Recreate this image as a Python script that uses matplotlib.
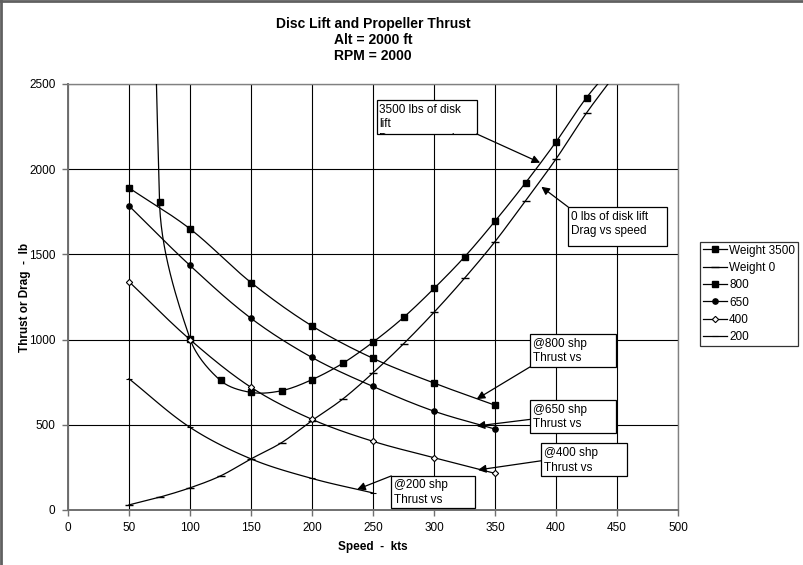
import numpy as np
import matplotlib
matplotlib.use('Agg')
import matplotlib.pyplot as plt
from matplotlib.patches import Rectangle
from matplotlib.transforms import Bbox, TransformedBbox

plt.rcParams['font.family'] = ['Liberation Sans', 'DejaVu Sans']
plt.rcParams['font.size'] = 8.5

# speeds (kts)
speed_25 = [50, 75, 100, 125, 150, 175, 200, 225, 250, 275, 300, 325, 350, 375, 400, 425, 450]
speed_50 = [50, 100, 150, 200, 250, 300, 350]
speed_200 = [50, 100, 150, 200, 250]

# drag with 3500 lbs / 0 lbs of disk lift (lb)
weight_3500 = [14000, 1810, 1005, 760, 690, 700, 765, 860, 985, 1130, 1300, 1485, 1695, 1920, 2160, 2420, 2630]
weight_0 = [30, 75, 130, 200, 300, 395, 525, 650, 805, 975, 1160, 1360, 1575, 1815, 2060, 2330, 2570]

# propeller thrust at given shp (lb)
thrust_800 = [1890, 1650, 1335, 1080, 890, 745, 615]
thrust_650 = [1785, 1435, 1125, 895, 725, 580, 475]
thrust_400 = [1340, 1000, 720, 532, 403, 307, 215]
thrust_200 = [770, 485, 300, 185, 100]

fig = plt.figure(figsize=(8.04, 5.65), dpi=100)
ax = fig.add_axes([68/804, 55/565, 610/804, 426/565])
ax.set_xlim(0, 500)
ax.set_ylim(0, 2500)


def smooth(xs, ys, n=30):
    # Excel-style smoothed line: cubic Bezier with chord-weighted tangents,
    # worked out in screen space so both axes count equally
    pts = ax.transData.transform(np.column_stack([xs, ys]).astype(float))
    m = len(pts)
    out = []
    t = np.linspace(0, 1, n)[:, None]
    for i in range(m - 1):
        p0, p1, p2, p3 = pts[max(i - 1, 0)], pts[i], pts[i + 1], pts[min(i + 2, m - 1)]
        d01 = np.hypot(*(p1 - p0))
        d12 = np.hypot(*(p2 - p1))
        d23 = np.hypot(*(p3 - p2))
        c1 = p1 + (p2 - p0) / 3 * d12 / (d01 + d12)
        c2 = p2 - (p3 - p1) / 3 * d12 / (d12 + d23)
        seg = (1 - t)**3 * p1 + 3 * (1 - t)**2 * t * c1 + 3 * (1 - t) * t**2 * c2 + t**3 * p2
        out.append(seg if i == 0 else seg[1:])
    xy = ax.transData.inverted().transform(np.vstack(out))
    return xy[:, 0], xy[:, 1]


series = [
    ('Weight 3500', speed_25, weight_3500, dict(marker='s', ms=4.2, mfc='k')),
    ('Weight 0', speed_25, weight_0, dict(marker='_', ms=6, mew=1.0)),
    ('800', speed_50, thrust_800, dict(marker='s', ms=4.2, mfc='k')),
    ('650', speed_50, thrust_650, dict(marker='o', ms=3.8, mfc='k')),
    ('400', speed_50, thrust_400, dict(marker='D', ms=3.2, mfc='white', mew=0.8)),
    ('200', speed_200, thrust_200, dict(marker='_', ms=5, mew=0.8)),
]

for label, xs, ys, mk in series:
    sx, sy = smooth(xs, ys)
    ax.plot(sx, sy, color='k', lw=0.9, zorder=3)
    ax.plot(xs, ys, ls='none', color='k', mec='k', zorder=4, **mk)
    # legend proxy
    ax.plot([], [], color='k', lw=0.9, mec='k', label=label, **mk)

# grid and frame
ax.set_xticks(np.arange(0, 501, 50))
ax.set_yticks(np.arange(0, 2501, 500))
ax.grid(True, color='k', lw=0.8)
ax.set_axisbelow(True)
for side in ['top', 'right']:
    ax.spines[side].set_color('#808080')
    ax.spines[side].set_linewidth(1.0)
for side in ['left', 'bottom']:
    ax.spines[side].set_color('#707070')
    ax.spines[side].set_linewidth(1.4)
ax.tick_params(direction='out', length=4, width=1, color='#707070', labelsize=8.5)
ax.tick_params(axis='x', pad=4.5)
ax.tick_params(axis='y', pad=5)

fig.text(373/804, 1 - 17/565, 'Disc Lift and Propeller Thrust\nAlt = 2000 ft\nRPM = 2000',
         ha='center', va='top', fontsize=10, fontweight='bold', linespacing=1.18)
fig.text(373/804, 1 - 547/565, 'Speed  -  kts', ha='center', va='center',
         fontsize=8.5, fontweight='bold')
fig.text(25/804, 1 - 297/565, 'Thrust or Drag  -  lb', ha='center', va='center',
         rotation=90, fontsize=8.5, fontweight='bold')

# callout boxes: (x0, x1, y0, y1), text, arrow start, arrow tip
callouts = [
    ((253, 335, 2207, 2406), '3500 lbs of disk\nlift\nDrag vs speed', (335, 2207), (387, 2038)),
    ((410, 491, 1549, 1778), '0 lbs of disk lift\nDrag vs speed', (410, 1778), (388, 1897)),
    ((379, 449, 841, 1033), '@800 shp\nThrust vs', (379, 841), (335, 651)),
    ((379, 449, 450, 645), '@650 shp\nThrust vs', (379, 532), (335, 493)),
    ((388, 458, 200, 391), '@400 shp\nThrust vs', (388, 289), (336, 235)),
    ((265, 334, 10, 201), '@200 shp\nThrust vs', (265, 200), (237, 121)),
]
for (x0, x1, y0, y1), txt, start, tip in callouts:
    ax.add_patch(Rectangle((x0, y0), x1 - x0, y1 - y0, facecolor='white',
                           edgecolor='k', lw=0.9, zorder=6))
    t = ax.text(x0 + 2, y1 - 22, txt, ha='left', va='top', fontsize=8.5,
                linespacing=1.27, zorder=7)
    t.set_clip_box(TransformedBbox(Bbox.from_extents(x0, y0, x1, y1), ax.transData))
    t.set_clip_on(True)
    ax.annotate('', xy=tip, xytext=start, zorder=8,
                arrowprops=dict(arrowstyle='-|>', color='k', lw=0.9,
                                mutation_scale=12, shrinkA=0, shrinkB=0))

leg = fig.legend(loc='upper left', bbox_to_anchor=(700/804, 1 - 242/565),
                 frameon=True, fancybox=False, fontsize=8.5, handlelength=2.1,
                 handletextpad=0.15, labelspacing=0.45, borderpad=0.22,
                 borderaxespad=0)
leg.get_frame().set_edgecolor('k')
leg.get_frame().set_linewidth(0.9)

# outer chart border (top and left edges visible)
fig.add_artist(plt.Line2D([0, 1], [0.998, 0.998], color='#606060', lw=2, transform=fig.transFigure))
fig.add_artist(plt.Line2D([0.001, 0.001], [0, 1], color='#606060', lw=2, transform=fig.transFigure))

fig.savefig('out.png', dpi=100, facecolor='white')
